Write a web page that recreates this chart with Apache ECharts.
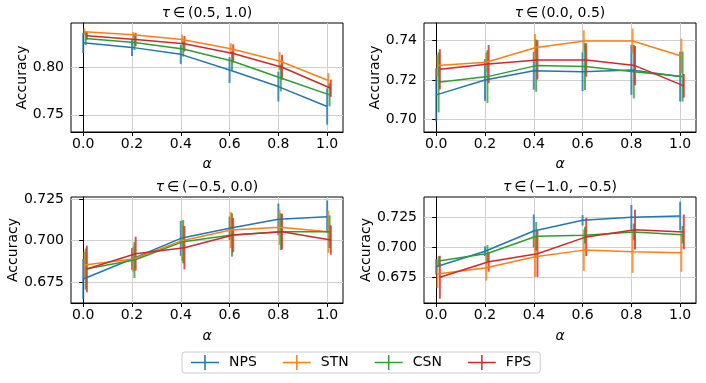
<!DOCTYPE html>
<html>
<head>
<meta charset="utf-8">
<script src="https://cdn.jsdelivr.net/npm/echarts@6/dist/echarts.min.js"></script>
<style>
  html, body { margin: 0; padding: 0; background: #fff; }
  #chart { width: 706px; height: 383px; }
</style>
</head>
<body>
<div id="chart"></div>
<script>
// 数据 —— 横轴 alpha，四种方法
const alphas = [0.0, 0.2, 0.4, 0.6, 0.8, 1.0];
const methods = ['NPS', 'STN', 'CSN', 'FPS'];
const colors = ['#1f77b4', '#ff7f0e', '#2ca02c', '#d62728'];
const dodge = [0, 0.005, 0.01, 0.015]; // 误差棒错开
const tauTitles = ['(0.5, 1.0)', '(0.0, 0.5)', '(\u22120.5, 0.0)', '(\u22121.0, \u22120.5)'];
const xTicks = [0.0, 0.2, 0.4, 0.6, 0.8, 1.0];

// 每个面板：均值 / 误差（行顺序 NPS, STN, CSN, FPS）
const meanA = [
  [0.8253, 0.8205, 0.8132, 0.7969, 0.7795, 0.7587],
  [0.8368, 0.8337, 0.8288, 0.8191, 0.8063, 0.7858],
  [0.8299, 0.8257, 0.8188, 0.8063, 0.7885, 0.7708],
  [0.8326, 0.8288, 0.8243, 0.8142, 0.7997, 0.7778]
];
const errA = [
  [0.0106, 0.009, 0.010, 0.0135, 0.0156, 0.019],
  [0.0035, 0.003, 0.005, 0.0057, 0.0095, 0.008],
  [0.007, 0.008, 0.008, 0.010, 0.014, 0.012],
  [0.004, 0.007, 0.008, 0.0095, 0.013, 0.009]
];
const meanB = [
  [0.7124, 0.7200, 0.7247, 0.7242, 0.7251, 0.7217],
  [0.7273, 0.7290, 0.7364, 0.7398, 0.7398, 0.7322],
  [0.7188, 0.7217, 0.7273, 0.7268, 0.7242, 0.7217],
  [0.7254, 0.7281, 0.7302, 0.7302, 0.7273, 0.7170]
];
const errB = [
  [0.0136, 0.0106, 0.0097, 0.0099, 0.0127, 0.0127],
  [0.0055, 0.005, 0.007, 0.0055, 0.0064, 0.0088],
  [0.0153, 0.0134, 0.0133, 0.0119, 0.0136, 0.0127],
  [0.0102, 0.0097, 0.010, 0.0085, 0.010, 0.006]
];
const meanC = [
  [0.677, 0.689, 0.7014, 0.7074, 0.7128, 0.7144],
  [0.6854, 0.689, 0.700, 0.7064, 0.708, 0.7054],
  [0.683, 0.6884, 0.6994, 0.7034, 0.7054, 0.7054],
  [0.683, 0.6922, 0.6958, 0.7034, 0.7054, 0.7004]
];
const errC = [
  [0.012, 0.0065, 0.0105, 0.007, 0.0095, 0.0097],
  [0.008, 0.0075, 0.012, 0.0108, 0.0105, 0.0127],
  [0.0123, 0.0108, 0.013, 0.013, 0.011, 0.0098],
  [0.014, 0.0102, 0.013, 0.0103, 0.0107, 0.0088]
];
const meanD = [
  [0.6839, 0.6969, 0.7139, 0.7228, 0.7253, 0.7264],
  [0.6778, 0.683, 0.6922, 0.6978, 0.6964, 0.6956],
  [0.6886, 0.695, 0.7094, 0.7103, 0.7131, 0.7108],
  [0.675, 0.688, 0.6947, 0.7089, 0.715, 0.7131]
];
const errD = [
  [0.0064, 0.004, 0.0139, 0.0044, 0.0104, 0.012],
  [0.0118, 0.0108, 0.017, 0.0174, 0.0178, 0.016],
  [0.004, 0.007, 0.012, 0.007, 0.007, 0.0074],
  [0.018, 0.0083, 0.0194, 0.016, 0.0167, 0.0146]
];

const yMins = [0.732, 0.6935, 0.6626, 0.6534];
const yMaxs = [0.846, 0.749, 0.7262, 0.7424];
const yTicks = [
  [0.75, 0.80],
  [0.70, 0.72, 0.74],
  [0.675, 0.700, 0.725],
  [0.675, 0.700, 0.725]
];
const yDecimals = [2, 2, 3, 3];

const means = [meanA, meanB, meanC, meanD];
const errs = [errA, errB, errC, errD];

const FONT = 'DejaVu Sans';
const FS = 14;

// 四个子图的位置
const grids = [
  { left: 71, top: 23, width: 272, height: 109 },
  { left: 424, top: 23, width: 272, height: 109 },
  { left: 71, top: 197, width: 272, height: 106 },
  { left: 424, top: 197, width: 272, height: 106 }
];

const chart = echarts.init(document.getElementById('chart'), null, { renderer: 'canvas' });

const xAxes = grids.map((g, i) => ({
  type: 'value',
  gridIndex: i,
  min: -0.05,
  max: 1.065,
  name: 'α',
  nameLocation: 'middle',
  nameGap: i >= 2 ? 26 : 25,
  nameTextStyle: { fontFamily: FONT, fontSize: FS, fontStyle: 'italic', color: '#000' },
  axisLine: { show: true, lineStyle: { color: '#000', width: 1 } },
  axisTick: { show: true, inside: false, length: 4, customValues: xTicks, lineStyle: { color: '#000' } },
  axisLabel: {
    customValues: xTicks, margin: 5, color: '#000', fontFamily: FONT, fontSize: FS,
    formatter: v => v.toFixed(1)
  },
  splitLine: { show: true, lineStyle: { color: '#d0d0d0', width: 1 } }
}));

const yAxes = grids.map((g, i) => ({
  type: 'value',
  gridIndex: i,
  min: yMins[i],
  max: yMaxs[i],
  name: 'Accuracy',
  nameLocation: 'middle',
  nameRotate: 90,
  nameGap: i >= 2 ? 50 : 41,
  nameTextStyle: { fontFamily: FONT, fontSize: FS, color: '#000' },
  axisLine: { show: true, lineStyle: { color: '#000', width: 1 } },
  axisTick: { show: true, inside: false, length: 4, customValues: yTicks[i], lineStyle: { color: '#000' } },
  axisLabel: {
    customValues: yTicks[i], margin: 7, color: '#000', fontFamily: FONT, fontSize: FS,
    formatter: v => v.toFixed(yDecimals[i])
  },
  splitLine: { show: true, lineStyle: { color: '#d0d0d0', width: 1 } }
}));

const titles = grids.map((g, i) => ({
  text: '{i|τ}\u2009∈\u2009' + tauTitles[i],
  left: g.left + g.width / 2,
  top: g.top - 17,
  textAlign: 'center',
  padding: 0,
  textStyle: {
    fontFamily: FONT, fontSize: FS, fontWeight: 'normal', color: '#000',
    rich: { i: { fontFamily: FONT, fontSize: FS, fontStyle: 'italic', color: '#000' } }
  }
}));

const series = [];
for (let p = 0; p < 4; p++) {
  methods.forEach((m, k) => {
    const lineData = alphas.map((a, j) => [a + dodge[k], means[p][k][j]]);
    const barData = alphas.map((a, j) => [a + dodge[k], means[p][k][j] - errs[p][k][j], means[p][k][j] + errs[p][k][j]]);
    series.push({
      name: m,
      type: 'line',
      xAxisIndex: p,
      yAxisIndex: p,
      data: lineData,
      showSymbol: false,
      symbol: 'none',
      color: colors[k],
      lineStyle: { color: colors[k], width: 1.5 },
      silent: true
    });
    series.push({
      name: m,
      type: 'custom',
      xAxisIndex: p,
      yAxisIndex: p,
      data: barData,
      encode: { x: 0, y: [1, 2] },
      color: colors[k],
      silent: true,
      renderItem: (params, api) => {
        const lo = api.coord([api.value(0), api.value(1)]);
        const hi = api.coord([api.value(0), api.value(2)]);
        return {
          type: 'line',
          shape: { x1: lo[0], y1: lo[1], x2: hi[0], y2: hi[1] },
          style: { stroke: colors[k], lineWidth: 2, opacity: 0.8 }
        };
      }
    });
  });
}

// 图例图标：横线 + 竖线（误差棒样式）
const crossIcon = 'path://M0,6.75 L13.25,6.75 L13.25,0 L14.75,0 L14.75,6.75 L28,6.75 L28,8.25 L14.75,8.25 L14.75,15 L13.25,15 L13.25,8.25 L0,8.25 Z';

const option = {
  animation: false,
  backgroundColor: '#fff',
  title: titles,
  grid: grids.map(g => Object.assign({ show: true, borderColor: '#000', borderWidth: 1, backgroundColor: 'transparent' }, g)),
  xAxis: xAxes,
  yAxis: yAxes,
  legend: {
    data: methods.map((m, k) => ({ name: m, icon: crossIcon, itemStyle: { color: colors[k] } })),
    left: 182,
    top: 352,
    orient: 'horizontal',
    itemWidth: 28,
    itemHeight: 15,
    itemGap: 26,
    padding: [3, 9, 3, 9],
    borderColor: '#cccccc',
    borderWidth: 1,
    borderRadius: 3,
    selectedMode: false,
    textStyle: { fontFamily: FONT, fontSize: FS, color: '#000', padding: [0, 0, 0, 5] }
  },
  series: series
};

chart.setOption(option);
</script>
</body>
</html>
